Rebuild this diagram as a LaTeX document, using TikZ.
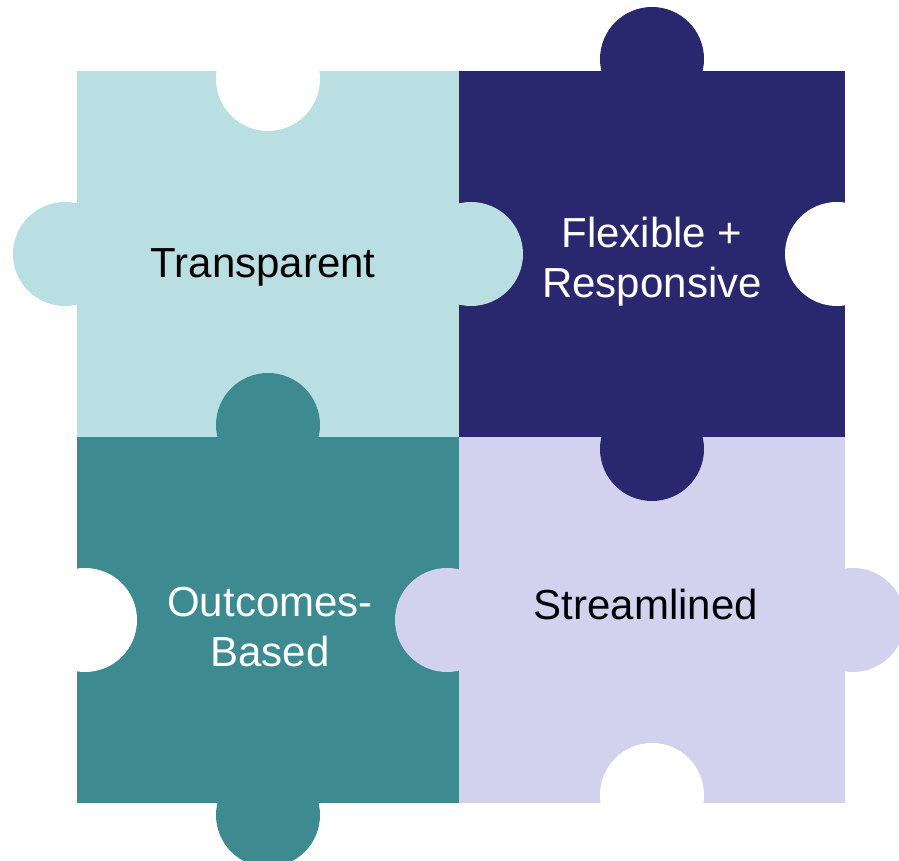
\documentclass[tikz,border=0pt]{standalone}
\usepackage{fontspec}
\setmainfont{Liberation Sans}
\definecolor{paleteal}{HTML}{BADFE3}
\definecolor{puzzlenavy}{HTML}{29286F}
\definecolor{deepteal}{HTML}{3D8B90}
\definecolor{lavender}{HTML}{D2D2EF}

\begin{document}
\begin{tikzpicture}[x=1pt, y=1pt,
    piecetext/.style ={font=\fontsize{42}{50}\selectfont, inner sep=0pt, align=center, anchor=base}]
   \useasboundingbox (0,0) rectangle (899,861);

   % the four squares
   \fill[paleteal]   (77,424)  rectangle (459,790);
   \fill[puzzlenavy] (459,424) rectangle (845,790);
   \fill[deepteal]   (77,58)   rectangle (459,424);
   \fill[lavender]   (459,58)  rectangle (845,424);

   % tabs
   \fill[paleteal]   (65,607)  circle (52);
   \fill[paleteal]   (471,607) circle (52);
   \fill[puzzlenavy] (652,802) circle (52);
   \fill[puzzlenavy] (652,412) circle (52);
   \fill[deepteal]   (268,436) circle (52);
   \fill[deepteal]   (268,46)  circle (52);
   \fill[lavender]   (447,241) circle (52);
   \fill[lavender]   (853,241) circle (52);

   % holes on the outer edges
   \fill[white] (268,782) circle (52);
   \fill[white] (837,607) circle (52);
   \fill[white] (85,241)  circle (52);
   \fill[white] (652,66)  circle (52);

   \node[piecetext, black] (transparent) at (263,583) {Transparent};
   \node[piecetext, white] (flexible)    at (652,563) {Flexible +\\Responsive};
   \node[piecetext, white] (outcomes)    at (270,194) {Outcomes-\\Based};
   \node[piecetext, black] (streamlined) at (646,241) {Streamlined};
\end{tikzpicture}
\end{document}
